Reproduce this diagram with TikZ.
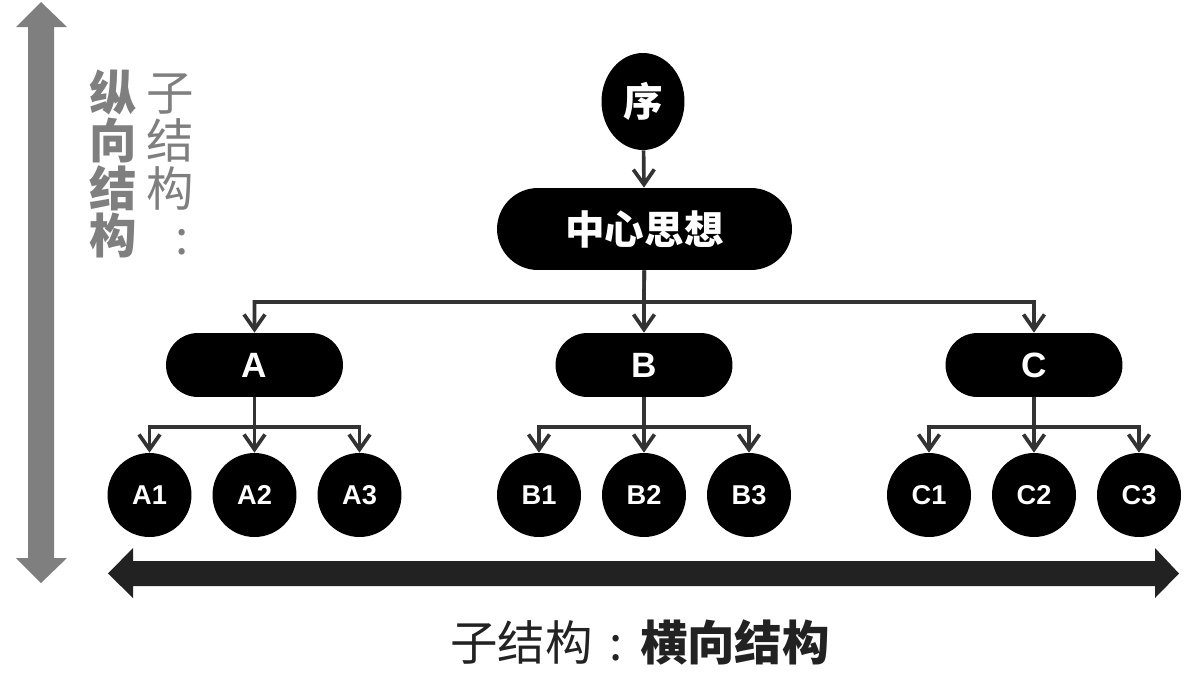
\documentclass[tikz,border=0pt]{standalone}
\usepackage{fontspec}
\setmainfont{Liberation Sans}
\newfontfamily\cjk{Noto Sans CJK SC}
\usetikzlibrary{arrows.meta,shapes.geometric}
\definecolor{axisgray}{HTML}{7F7F7F}
\definecolor{linegray}{HTML}{333333}
\definecolor{bargray}{HTML}{222222}

\begin{document}
\begin{tikzpicture}[x=0.02cm,y=-0.02cm,
    blk/.style={fill=black,text=white,inner sep=0pt},
    xunode/.style={blk,ellipse,minimum width=1.66cm,minimum height=1.94cm,font=\cjk\bfseries\fontsize{22.5}{26}\selectfont},
    mainnode/.style={blk,rectangle,rounded corners=0.82cm,minimum width=5.9cm,minimum height=1.64cm,font=\cjk\bfseries\fontsize{22.5}{26}\selectfont},
    subnode/.style={blk,rectangle,rounded corners=0.64cm,minimum width=3.54cm,minimum height=1.28cm,font=\bfseries\fontsize{20}{24}\selectfont},
    leaf/.style={blk,circle,minimum size=1.68cm,font=\bfseries\fontsize{15.5}{18}\selectfont},
    conn/.style={draw=linegray,line width=2.1pt,-{Straight Barb[length=0.3cm,width=0.42cm]}},
    sidetext/.style={align=center,inner sep=0pt,text=axisgray,font=\cjk\fontsize{27}{27.3}\selectfont}]
  \useasboundingbox (0,0) rectangle (1197,673);

  % axes
  \fill[axisgray] (28,27) -- (16,27) -- (41,2) -- (67,27) -- (54,27) -- (54,558) -- (67,558) -- (41,583) -- (16,558) -- (28,558) -- cycle;
  \fill[bargray] (133,561) -- (133,548) -- (108,573.5) -- (133,598) -- (133,586) -- (1155,586) -- (1155,598) -- (1179,573.5) -- (1155,548) -- (1155,561) -- cycle;

  \node[sidetext,font=\cjk\bfseries\fontsize{27}{27.3}\selectfont] (zong) at (113,164) {纵\\向\\结\\构};
  \node[sidetext] (zi) at (170,164) {子\\结\\构\\\makebox[1em]{\hspace{0.5em}:}};
  \node[inner sep=0pt,text=bargray,font=\cjk\fontsize{27}{30}\selectfont] (heng) at (640,642) {子结构\makebox[1em]{:}\textbf{横向结构}};

  % tree
  \node[xunode] (xu) at (643,101.5) {序};
  \node[mainnode] (zx) at (644.5,229) {中心思想};
  \coordinate (hub) at (644,302);
  \foreach \p/\x in {A/254.5,B/644,C/1034} {
    \node[subnode] (\p) at (\x,365) {\p};
    \coordinate (\p bar) at (\x,427);
    \foreach \i/\dx in {1/-105,2/0,3/105}
      \node[leaf] (\p\i) at ({\x+\dx},495) {\p\i};
  }

  \draw[conn] (xu) -- (zx);
  \draw[conn] (zx) -- (hub) -| (A);
  \draw[conn] (zx) -- (hub) -| (C);
  \draw[conn] (hub) -- (B);
  \foreach \p in {A,B,C} {
    \draw[conn] (\p) -- (\p bar) -| (\p1);
    \draw[conn] (\p) -- (\p bar) -| (\p3);
    \draw[conn] (\p bar) -- (\p2);
  }
\end{tikzpicture}
\end{document}
